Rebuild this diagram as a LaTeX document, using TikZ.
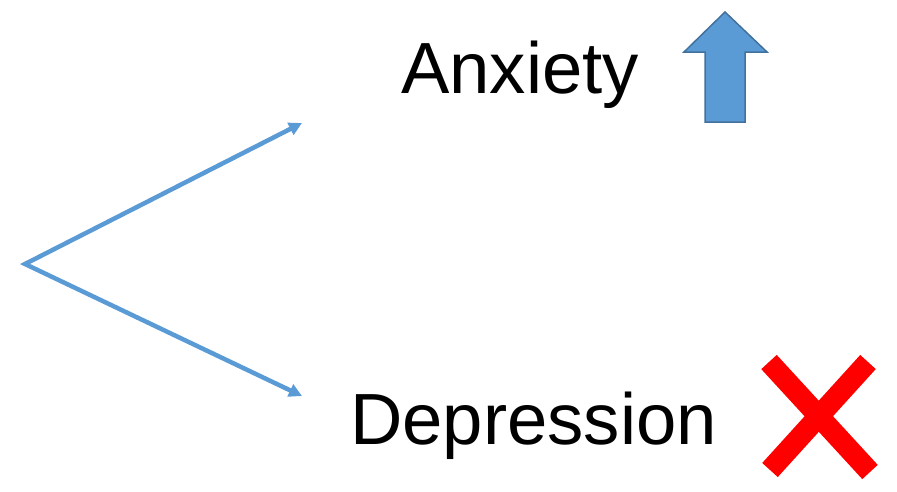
\documentclass[tikz,border=0pt]{standalone}
\usepackage{fontspec}
\setmainfont{Liberation Sans}
\usetikzlibrary{arrows.meta}
\definecolor{lineblue}{HTML}{5B9BD5}
\definecolor{edgeblue}{HTML}{41719C}
\definecolor{xred}{HTML}{FF0000}
\begin{document}
\begin{tikzpicture}[x=1pt,y=-1pt,
  label/.style={font=\fontsize{72.5}{80}\selectfont, inner sep=0pt, anchor=base west},
  conn/.style={draw=lineblue, line width=4.5pt, {Triangle[length=13pt,width=13pt]}-{Triangle[length=13pt,width=13pt]}},
  uparrow/.style={fill=lineblue, draw=edgeblue, line width=1.5pt, line join=miter},
  xstroke/.style={draw=xred, line width=21pt, line cap=butt}]
\useasboundingbox (0,0) rectangle (897,491);
\node[label] (anx) at (401,93) {Anxiety};
\node[label] (dep) at (350,444) {Depression};
\coordinate (o) at (25,264);
\coordinate (t1) at (302,123);
\coordinate (t2) at (302,396);
\draw[conn] (t1) -- (o) -- (t2);
\draw[uparrow] (725,12) -- (767,52) -- (745,52) -- (745,122) -- (705,122) -- (705,52) -- (684,52) -- cycle;
\draw[xstroke] (769,362) -- (870,472);
\draw[xstroke] (868,362) -- (770,470);
\end{tikzpicture}
\end{document}
